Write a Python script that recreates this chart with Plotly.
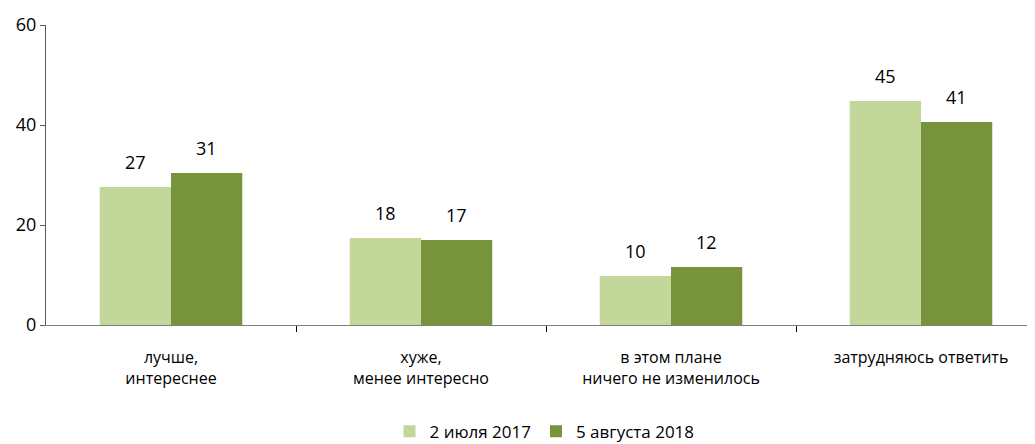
import plotly.graph_objects as go

categories = ["лучше,<br>интереснее", "хуже,<br>менее интересно", "в этом плане<br>ничего не изменилось", "затрудняюсь ответить"]
series_names = ["2 июля 2017", "5 августа 2018"]
values_2017 = [27.6, 17.4, 9.8, 44.8]
values_2018 = [30.4, 17.0, 11.6, 40.6]
labels_2017 = ["27", "18", "10", "45"]
labels_2018 = ["31", "17", "12", "41"]
y_ticks = [0, 20, 40, 60]

colors = ["#C4D79B", "#77933C"]
FONT = "Open Sans"
W = 500

fig = go.Figure()
for name, vals, col in zip(series_names, [values_2017, values_2018], colors):
    fig.add_trace(go.Bar(x=list(range(len(categories))), y=vals, name=name,
                         marker=dict(color=col, line=dict(width=0))))

for vals, labs, shift in [(values_2017, labels_2017, -35.5), (values_2018, labels_2018, 35.5)]:
    for i, (v, t) in enumerate(zip(vals, labs)):
        fig.add_annotation(x=i, y=v, text=t, showarrow=False, xshift=shift,
                           yanchor="bottom", yshift=11,
                           font=dict(family=FONT, size=18, color="#000", weight=W))

fig.update_layout(
    width=1035, height=444,
    margin=dict(l=38, r=0, t=17, b=127, autoexpand=False),
    paper_bgcolor="white", plot_bgcolor="white",
    barmode="group", bargap=0.43, bargroupgap=0,
    font=dict(family=FONT, size=16, color="#000", weight=W),
    showlegend=True,
    legend=dict(orientation="h", x=0.5, xanchor="center", y=0.005, yanchor="bottom",
                yref="container", itemwidth=30,
                font=dict(family=FONT, size=17, color="#000", weight=W), itemsizing="constant"),
)
fig.update_xaxes(type="linear", range=[-0.5, 3.488], tickmode="array",
                 tickvals=list(range(len(categories))), ticktext=categories,
                 showline=True, linecolor="#7f7f7f", linewidth=1,
                 ticks="", showgrid=False, zeroline=False, automargin=False,
                 ticklabelstandoff=18,
                 tickfont=dict(family=FONT, size=16, color="#000", weight=W))
fig.update_xaxes(minor=dict(tickvals=[0.5, 1.5, 2.5], ticks="outside", ticklen=6,
                            tickcolor="#000", tickwidth=1, showgrid=False))
fig.update_yaxes(range=[0, 60], tickvals=y_ticks, showline=True, linecolor="#595959",
                 linewidth=1, ticks="outside", ticklen=5, tickcolor="#595959",
                 showgrid=False, zeroline=False, automargin=False,
                 tickfont=dict(family=FONT, size=18, color="#000", weight=W))

fig.write_html("out.html")
